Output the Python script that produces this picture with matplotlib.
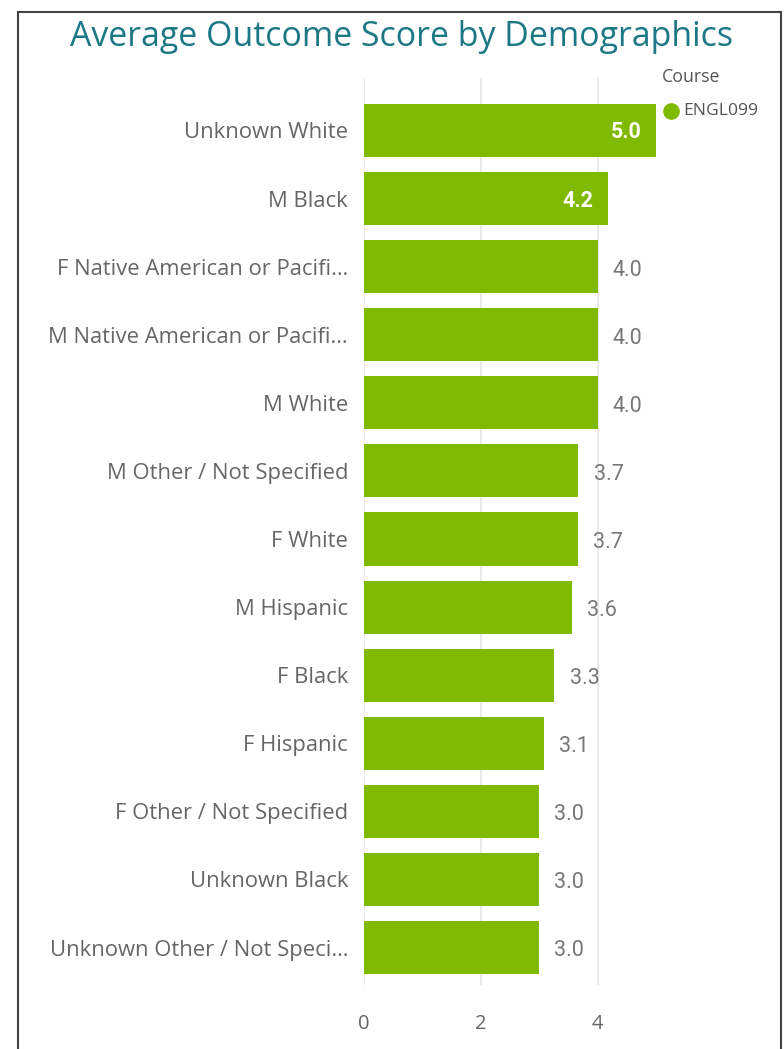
import matplotlib
matplotlib.use('Agg')
from matplotlib import pyplot as plt
from matplotlib.patches import Rectangle
from matplotlib.lines import Line2D

categories = ['Unknown White', 'M Black', 'F Native American or Pacifi…',
              'M Native American or Pacifi…', 'M White', 'M Other / Not Specified',
              'F White', 'M Hispanic', 'F Black', 'F Hispanic',
              'F Other / Not Specified', 'Unknown Black', 'Unknown Other / Not Speci…']
scores = [5.0, 4.18, 4.0, 4.0, 4.0, 3.67, 3.66, 3.56, 3.26, 3.08, 3.0, 3.0, 3.0]
x_ticks = [0, 2, 4]

bar_color = '#7FBA00'
grey = '#666666'
plt.rcParams['font.family'] = ['Open Sans', 'DejaVu Sans']

fig = plt.figure(figsize=(7.84, 10.49), dpi=100)
ax = fig.add_axes([364 / 784, 64 / 1049, 292 / 784, 907 / 1049])

ypos = list(range(len(categories)))
ax.barh(ypos, scores, height=0.78, color=bar_color, zorder=2)
ax.set_xlim(0, 5)
ax.set_ylim(12.55, -0.77)

ax.set_yticks(ypos)
ax.set_yticklabels(categories, fontsize=15.8, color=grey)
ax.set_xticks(x_ticks)
ax.set_xticklabels([str(t) for t in x_ticks], fontsize=14.5, color=grey)
ax.tick_params(axis='y', length=0, pad=11.5)
ax.tick_params(axis='x', length=0, pad=21)
ax.grid(axis='x', color='#e6e6e6', linewidth=1.2, zorder=0)
for s in ax.spines.values():
    s.set_visible(False)

# values: inside the bar for the long ones, outside otherwise
for y, v in zip(ypos, scores):
    if v >= 4.1:
        ax.text(v - 0.25, y + 0.03, f'{v:.1f}', ha='right', va='center',
                fontsize=15.5, fontweight='bold', color='white',
                family=['Roboto', 'DejaVu Sans'], zorder=3)
    else:
        ax.text(v + 0.26, y + 0.05, f'{v:.1f}', ha='left', va='center',
                fontsize=15.5, color='#777777',
                family=['Roboto', 'DejaVu Sans'], zorder=3)

fig.text(402 / 784, 1 - 37 / 1049, 'Average Outcome Score by Demographics',
         ha='center', va='center', fontsize=24.4, color='#1B7884')

fig.text(662 / 784, 1 - 77 / 1049, 'Course', ha='left', va='center',
         fontsize=12.8, color='#555555')
fig.add_artist(Line2D([671 / 784], [1 - 111 / 1049], marker='o', markersize=11,
                      color=bar_color, transform=fig.transFigure))
fig.text(683 / 784, 1 - 111 / 1049, 'ENGL099', ha='left', va='center',
         fontsize=12.6, color='#555555')

fig.add_artist(Rectangle((18 / 784, -0.05), (781 - 18) / 784, 1.05 - 12 / 1049,
                         transform=fig.transFigure, fill=False,
                         edgecolor='#444444', linewidth=1.5))

fig.savefig('out.png', dpi=100)
